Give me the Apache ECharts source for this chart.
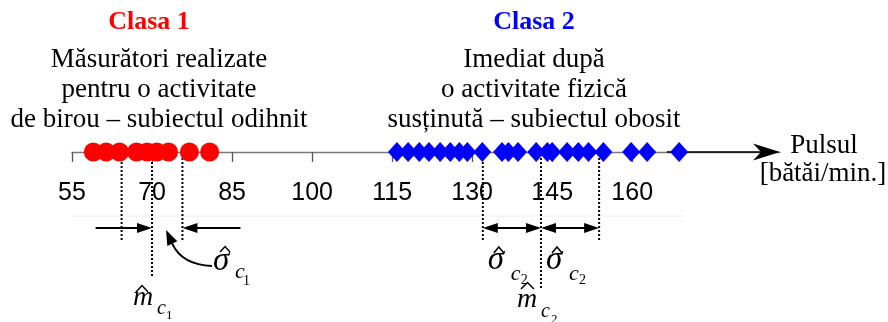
<!DOCTYPE html>
<html><head><meta charset="utf-8">
<script src="https://cdn.jsdelivr.net/npm/echarts@6/dist/echarts.min.js"></script>
<style>html,body{margin:0;padding:0;background:#fff}#c{width:888px;height:322px}</style>
</head><body><div id="c"></div>
<script>
// ---- data ----
const tickValues = [55, 70, 85, 100, 115, 130, 145, 160];
const clasa1 = [59.0, 61.4, 63.9, 67.1, 69.1, 70.9, 73.1, 77.0, 80.8];
const clasa2 = [115.9, 118.0, 120.1, 121.9, 124.0, 125.9, 127.6, 129.1, 131.9, 135.6, 136.8, 138.6,
                142.0, 144.1, 145.0, 147.8, 149.9, 151.8, 154.6, 159.8, 162.8, 168.8];
const meanC1 = 70.0, sigmaC1 = 5.7;
const meanC2 = 142.9, sigmaC2 = 10.9;
const axisMin = 55, axisMax = 187.7;
const arrowFrom = 166.5;
const frameTo = 169.6;
const titles = ['Clasa 1', 'Clasa 2'];
const desc1 = ['Măsurători realizate', 'pentru o activitate', 'de birou – subiectul odihnit'];
const desc2 = ['Imediat după', 'o activitate fizică', 'susținută – subiectul obosit'];
const axisName = ['Pulsul', '[bătăi/min.]'];

const SERIF = "'Liberation Serif','Times New Roman',serif";

function renderItem(params, api) {
  const X = v => api.coord([v, 0])[0];
  const y0 = api.coord([axisMin, 0])[1];
  const ch = [];
  const line = (x1, y1, x2, y2, extra) => ({type: 'line', shape: {x1, y1, x2, y2},
    style: Object.assign({stroke: '#000', lineWidth: 1.8}, extra || {})});
  const dotted = (x, len) => line(x, y0 + 2, x, y0 + len, {lineWidth: 2, lineDash: [2, 2]});
  const head = (tx, ty, dx, dy, L, W) => {
    const bx = tx - dx * L, by = ty - dy * L, px = -dy, py = dx;
    return {type: 'polygon', shape: {points: [[tx, ty], [bx + px * W, by + py * W], [bx - px * W, by - py * W]]},
      style: {fill: '#000'}};
  };
  const t = (text, x, base, size, italic) => ({type: 'text',
    style: {text, x, y: base - 0.34 * size, textVerticalAlign: 'middle', textAlign: 'left',
      font: (italic ? 'italic ' : '') + size + 'px ' + SERIF, fill: '#000'}});
  const hat = (x1, x2, yb, h) => ({type: 'polyline', shape: {points: [[x1, yb], [(x1 + x2) / 2, yb - h], [x2, yb]]},
    style: {stroke: '#000', lineWidth: 1.5, fill: null}});

  // faint frame line
  ch.push(line(X(axisMin), y0 + 64, X(frameTo), y0 + 64, {stroke: '#ececec', lineWidth: 1}));
  // black axis arrow
  const xt = X(axisMax);
  ch.push(line(X(arrowFrom), y0, xt - 18, y0, {lineWidth: 1.4}));
  ch.push({type: 'polygon', shape: {points: [[xt, y0], [xt - 27, y0 - 8.5], [xt - 19, y0], [xt - 27, y0 + 8.5]]},
    style: {fill: '#000'}});

  const ay = y0 + 76;
  // class 1
  const l1 = X(meanC1 - sigmaC1), m1 = X(meanC1), r1 = X(meanC1 + sigmaC1);
  ch.push(dotted(l1, 88), dotted(m1, 126), dotted(r1, 88));
  ch.push(line(l1 - 26, ay, m1 - 12, ay), head(m1, ay, 1, 0, 15, 5));
  ch.push(line(r1 + 58, ay, r1 + 12, ay), head(r1, ay, -1, 0, 15, 5));
  ch.push({type: 'bezierCurve', shape: {x1: m1 + 60, y1: y0 + 114, cpx1: m1 + 30, cpy1: y0 + 113,
    x2: m1 + 20.2, y2: y0 + 91.7}, style: {stroke: '#000', lineWidth: 2, fill: null}});
  ch.push(head(m1 + 14, y0 + 78, -0.42, -0.91, 15, 5.5));
  ch.push(t('σ', m1 + 61, y0 + 121, 33, true), hat(m1 + 68, m1 + 78, y0 + 100, 5.5),
    t('c', m1 + 83, y0 + 128, 22, true), t('1', m1 + 91, y0 + 134, 14, false));
  ch.push(t('m', m1 - 19, y0 + 155, 28, true), hat(m1 - 16, m1 - 4, y0 + 140, 6.5),
    t('c', m1 + 5, y0 + 164, 20, true), t('1', m1 + 14, y0 + 168, 13, false));

  // class 2
  const l2 = X(meanC2 - sigmaC2), m2 = X(meanC2), r2 = X(meanC2 + sigmaC2);
  ch.push(dotted(l2, 90), dotted(m2, 138), dotted(r2, 90));
  [[l2, m2], [m2, r2]].forEach(([a, b]) => {
    ch.push(line(a + 12, ay, b - 12, ay), head(a, ay, -1, 0, 15, 5), head(b, ay, 1, 0, 15, 5));
    ch.push(t('σ', a + 5, y0 + 120, 33, true), hat(a + 11, a + 21, y0 + 101, 6),
      t('c', a + 28, y0 + 130, 22, true), t('2', a + 38, y0 + 133, 14, false));
  });
  ch.push(t('m', m2 - 24, y0 + 157, 28, true), hat(m2 - 20, m2 - 7, y0 + 137, 6.5),
    t('c', m2 + 0, y0 + 167, 20, true), t('2', m2 + 10, y0 + 172, 13, false));

  return {type: 'group', children: ch};
}

const textEl = (text, x, y, size, color, bold) => ({type: 'text', x: 0, y: 0, silent: true,
  style: {text, x, y, textAlign: 'center', textVerticalAlign: 'middle',
    font: (bold ? 'bold ' : '') + size + 'px ' + SERIF, fill: color}});

const graphics = [
  textEl(titles[0], 149, 22.5, 26, '#ff0000', true),
  textEl(titles[1], 534, 22.5, 26, '#0000ff', true)
];
desc1.forEach((s, i) => graphics.push(textEl(s, 159, 59.5 + i * 30, 27, '#000', false)));
desc2.forEach((s, i) => graphics.push(textEl(s, 534, 59.5 + i * 30, 27, '#000', false)));
graphics.push(textEl(axisName[0], 824, 146, 27, '#000', false));
graphics.push(textEl(axisName[1], 823, 174, 27, '#000', false));

const chart = echarts.init(document.getElementById('c'), null, {renderer: 'canvas'});
chart.setOption({
  animation: false,
  backgroundColor: '#fff',
  grid: {left: 72, right: 108, top: 40, bottom: 170, containLabel: false},
  xAxis: {
    type: 'value', min: axisMin, max: axisMax,
    axisLine: {show: true, onZero: false, lineStyle: {color: '#777', width: 1.3}},
    axisTick: {show: true, customValues: tickValues, length: 10, lineStyle: {color: '#555', width: 1.3}},
    axisLabel: {customValues: tickValues, fontSize: 25, fontFamily: "'Liberation Sans', Arial, sans-serif",
      color: '#000', margin: 29},
    splitLine: {show: false}
  },
  yAxis: {type: 'value', min: 0, max: 1, show: false},
  graphic: graphics,
  series: [
    {type: 'custom', renderItem, data: [[axisMin, 0]], clip: false, silent: true, z: 1},
    {type: 'scatter', data: clasa1.map(v => [v, 0]), symbol: 'circle', symbolSize: 19,
      itemStyle: {color: '#ff0000', opacity: 1}, clip: false, z: 3, silent: true},
    {type: 'scatter', data: clasa2.map(v => [v, 0]), symbol: 'diamond', symbolSize: [18, 20],
      itemStyle: {color: '#0000ff', opacity: 1}, clip: false, z: 3, silent: true}
  ]
});
</script></body></html>
